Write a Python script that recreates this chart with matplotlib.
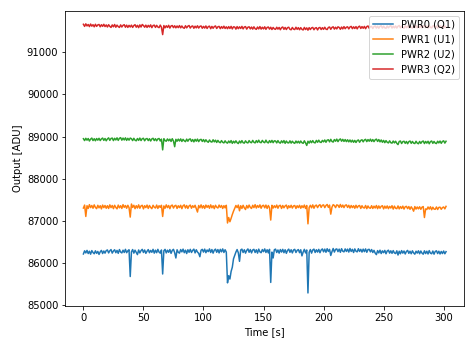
import numpy as np
import matplotlib
matplotlib.use("Agg")
import matplotlib.pyplot as plt

# One sample per second (t = 0..302 s)
pwr0 = 86000 + np.array([
    215, 290, 240, 300, 225, 280, 210, 295, 250, 220, 290, 230, 275, 205, 265, 300, 225, 285, 235, 295,
    310, 240, 290, 320, 235, 285, 315, 245, 300, 230, 320, 260, 240, 305, 250, 325, 245, 290, 315, -320,
    265, 320, 235, 305, 255, 200, 310, 240, 295, 325, 250, 310, 230, 280, 320, 245, 300, 255, 325, 235,
    305, 245, 325, 260, 235, 310, -260, 290, 325, 240, 305, 255, 320, 230, 300, 325, 245, 120, 315, 255,
    235, 320, 265, 330, 245, 305, 225, 315, 255, 325, 250, 300, 330, 240, 315, 260, 230, 150, 305, 325,
    260, 330, 245, 310, 270, 335, 250, 320, 235, 305, 330, 255, 320, 240, 325, 265, 335, 250, 315, 260,
    -470, -300, -380, -200, -100, 100, 180, 260, 320, 245, 40, 310, 330, 250, 315, 235, 300, 335, 255, 320,
    240, 310, 325, 250, 315, 235, 330, 265, 245, 320, 270, 335, 250, 315, 240, 325, -460, 260, 120, 315,
    330, 250, 310, 235, 320, 260, 325, 245, 315, 230, 300, 330, 255, 315, 240, 310, 325, 250, 300, 320,
    245, 315, 170, 260, 325, 240, 310, -710, 255, 320, 235, 310, 330, 250, 315, 260, 325, 245, 310, 335,
    265, 330, 255, 340, 275, 325, 180, 270, 345, 260, 325, 335, 270, 330, 255, 340, 280, 265, 335, 275,
    330, 260, 345, 275, 325, 250, 335, 280, 265, 340, 275, 325, 260, 330, 270, 335, 255, 320, 325, 265,
    320, 250, 300, 235, 200, 295, 240, 305, 225, 290, 245, 300, 220, 285, 305, 235, 290, 230, 295, 240,
    225, 290, 190, 280, 220, 295, 235, 285, 215, 275, 300, 230, 280, 220, 290, 240, 210, 280, 235, 290,
    220, 285, 235, 210, 290, 225, 280, 215, 295, 235, 220, 285, 210, 275, 290, 225, 280, 215, 275, 225,
    285, 220, 270])

pwr1 = 87000 + np.array([
    305, 375, 105, 360, 295, 385, 315, 365, 300, 380, 320, 290, 370, 310, 360, 285, 375, 315, 365, 300,
    360, 295, 380, 315, 365, 290, 370, 320, 285, 375, 310, 360, 295, 385, 320, 365, 300, 370, 315, 90,
    400, 320, 370, 290, 360, 305, 380, 300, 355, 370, 285, 360, 315, 375, 295, 365, 320, 290, 370, 325,
    305, 375, 295, 360, 320, 370, 105, 355, 300, 380, 315, 365, 290, 360, 375, 305, 355, 370, 295, 360,
    315, 370, 290, 360, 380, 305, 365, 295, 355, 375, 300, 360, 320, 370, 290, 210, 365, 310, 380, 305,
    360, 295, 375, 320, 365, 300, 380, 310, 360, 290, 370, 325, 305, 375, 320, 365, 295, 360, 310, 370,
    -50, 80, -20, 60, 150, 230, 300, 365, 315, 375, 240, 360, 295, 370, 310, 270, 365, 305, 375, 320,
    295, 370, 315, 385, 305, 365, 320, 380, 300, 360, 370, 310, 375, 295, 365, 315, 20, 370, 305, 360,
    315, 375, 300, 360, 370, 295, 365, 310, 355, 375, 290, 360, 315, 370, 305, 355, 365, 295, 360, 315,
    370, 300, 360, 315, 375, 295, 365, -70, 320, 370, 310, 380, 300, 360, 375, 315, 365, 385, 320, 370,
    380, 315, 365, 390, 320, 375, 160, 325, 385, 365, 315, 380, 370, 320, 390, 325, 375, 315, 370, 380,
    320, 370, 305, 365, 315, 360, 300, 370, 310, 355, 365, 295, 360, 315, 305, 365, 290, 355, 310, 300,
    360, 295, 350, 305, 365, 290, 355, 300, 345, 360, 285, 350, 300, 355, 290, 345, 305, 360, 280, 350,
    300, 290, 355, 285, 340, 295, 350, 280, 335, 345, 290, 340, 275, 335, 290, 230, 340, 280, 330, 285,
    335, 275, 325, 340, 80, 285, 270, 330, 280, 335, 265, 325, 280, 275, 330, 270, 320, 325, 275, 315,
    330, 285, 345])

pwr2 = 88000 + np.array([
    950, 905, 960, 915, 955, 895, 940, 965, 905, 950, 900, 955, 915, 960, 905, 945, 965, 910, 955, 900,
    945, 970, 910, 955, 965, 905, 960, 920, 970, 910, 960, 975, 915, 965, 920, 970, 910, 960, 915, 965,
    950, 905, 960, 915, 900, 955, 910, 965, 905, 950, 960, 900, 945, 955, 905, 950, 895, 945, 960, 905,
    950, 900, 945, 955, 895, 940, 685, 950, 905, 890, 945, 900, 940, 885, 950, 895, 760, 935, 890, 940,
    895, 945, 885, 935, 900, 880, 940, 890, 935, 945, 885, 930, 875, 935, 890, 940, 880, 925, 935, 885,
    930, 875, 925, 885, 865, 920, 880, 870, 925, 875, 915, 860, 910, 870, 855, 905, 865, 850, 900, 860,
    845, 895, 855, 905, 840, 890, 850, 900, 855, 835, 895, 850, 905, 855, 845, 900, 860, 850, 905, 865,
    855, 910, 865, 850, 905, 860, 915, 865, 855, 910, 870, 855, 915, 865, 850, 905, 860, 910, 855, 900,
    895, 850, 905, 860, 845, 900, 855, 905, 840, 895, 855, 850, 900, 845, 890, 855, 840, 895, 850, 890,
    845, 895, 855, 840, 900, 850, 790, 890, 845, 900, 855, 905, 860, 850, 910, 865, 915, 870, 860, 910,
    875, 920, 865, 915, 925, 875, 935, 885, 870, 930, 890, 940, 880, 925, 945, 890, 935, 885, 930, 880,
    925, 875, 920, 870, 915, 865, 910, 860, 905, 920, 865, 910, 925, 875, 920, 935, 880, 930, 890, 940,
    885, 930, 880, 925, 940, 885, 930, 875, 920, 865, 910, 855, 905, 865, 850, 900, 855, 845, 895, 850,
    890, 840, 810, 885, 895, 835, 880, 890, 840, 885, 830, 880, 895, 840, 885, 845, 835, 890, 845, 830,
    885, 840, 880, 895, 835, 885, 845, 890, 830, 880, 895, 840, 885, 845, 835, 890, 850, 895, 840, 885,
    900, 845, 890])

pwr3 = 91000 + np.array([
    665, 615, 675, 625, 660, 610, 670, 620, 655, 605, 665, 615, 650, 660, 605, 655, 615, 665, 610, 650,
    600, 655, 615, 590, 650, 605, 660, 595, 645, 610, 590, 650, 600, 640, 655, 595, 645, 590, 640, 600,
    645, 590, 635, 655, 595, 640, 585, 650, 600, 660, 635, 595, 645, 590, 640, 600, 650, 585, 635, 645,
    590, 640, 600, 585, 645, 595, 420, 635, 580, 630, 590, 640, 575, 625, 635, 585, 630, 580, 625, 585,
    635, 580, 625, 585, 570, 630, 580, 620, 635, 575, 615, 625, 570, 620, 580, 630, 575, 615, 625, 570,
    615, 575, 625, 565, 610, 620, 560, 615, 570, 610, 625, 565, 605, 615, 560, 610, 570, 620, 565, 605,
    560, 610, 565, 615, 555, 605, 600, 550, 610, 560, 605, 565, 615, 555, 600, 610, 550, 595, 605, 555,
    600, 550, 605, 560, 545, 600, 555, 610, 550, 595, 555, 605, 545, 590, 600, 550, 595, 540, 590, 555,
    545, 595, 550, 590, 535, 585, 600, 545, 590, 540, 585, 595, 545, 535, 590, 550, 540, 595, 545, 585,
    535, 585, 545, 530, 590, 540, 580, 525, 585, 540, 580, 590, 535, 575, 585, 530, 580, 590, 540, 585,
    545, 595, 550, 540, 590, 600, 545, 590, 605, 550, 595, 555, 605, 590, 545, 600, 555, 610, 560, 595,
    605, 555, 600, 615, 560, 605, 565, 610, 555, 605, 620, 565, 610, 570, 615, 560, 610, 625, 570, 610,
    615, 565, 610, 625, 575, 620, 570, 615, 630, 575, 620, 580, 570, 625, 580, 615, 635, 575, 620, 580,
    625, 575, 620, 635, 580, 625, 585, 570, 630, 585, 625, 580, 635, 590, 575, 625, 585, 635, 580, 625,
    585, 630, 580, 625, 635, 585, 620, 575, 630, 590, 580, 625, 635, 585, 625, 575, 620, 630, 585, 625,
    580, 625, 590])

labels = ["PWR0 (Q1)", "PWR1 (U1)", "PWR2 (U2)", "PWR3 (Q2)"]

fig = plt.figure(figsize=(473 / 72, 347 / 72), dpi=72)
ax = fig.add_axes([0.138, 0.1193, 0.9816 - 0.138, 0.9683 - 0.1193])

for series, lab in zip([pwr0, pwr1, pwr2, pwr3], labels):
    t = np.arange(len(series))  # 1 s sampling
    ax.plot(t, series, label=lab)

ax.set_xlim(-15.1, 317.2)
ax.set_ylim(84990, 91980)
ax.set_xlabel("Time [s]")
ax.set_ylabel("Output [ADU]")
ax.legend(loc="upper right")

fig.savefig("out.png", dpi=72)
